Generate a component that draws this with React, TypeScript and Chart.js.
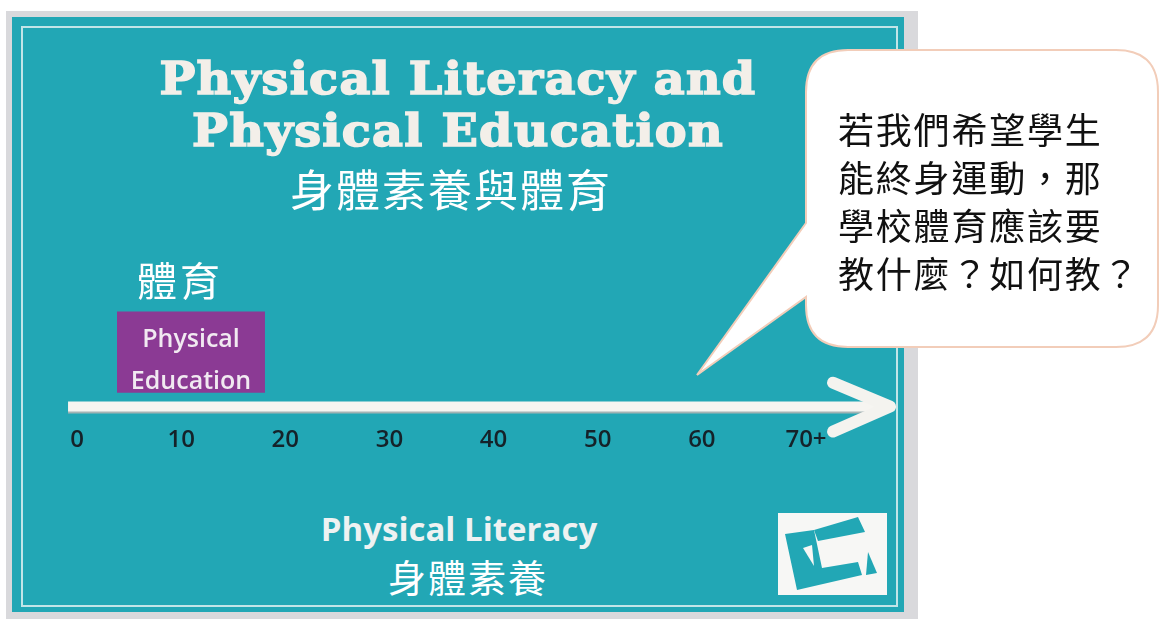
import { useEffect, useRef } from "react";
import { Chart, registerables } from "chart.js";

Chart.register(...registerables);

// ---- data ----
const ageTicks = [0, 10, 20, 30, 40, 50, 60, 70];
const ageTickLabels = ["0", "10", "20", "30", "40", "50", "60", "70+"];
const ageRange = [-6.242, 79.41];
const peAges = [3.84, 18.05];        // span of school physical education (ages)
const peBand = [5.9, 26.2];          // vertical band of the PE box (lane units)
const lifeAges = [-0.86, 77.1];      // lifelong arrow shaft (ages)
const lifeLane = 2.4;                // lane of the arrow
const headAges = [72.6, 78.07, 72.6];
const headLane = [8.4, 2.4, -3.85];

const titleLines = ["Physical Literacy and", "Physical Education"];
const subtitle = "身體素養與體育";
const peLabelZh = "體育";
const peLabelEn = ["Physical", "Education"];
const plLabelEn = "Physical Literacy";
const plLabelZh = "身體素養";
const bubbleLines = ["若我們希望學生", "能終身運動，那", "學校體育應該要", "教什麼？如何教？"];

const TEAL = "#22a7b5";

export default function App() {
  const ref = useRef<HTMLCanvasElement>(null);

  useEffect(() => {
    const chart = new Chart(ref.current!, {
      type: "line",
      data: {
        datasets: [
          {
            data: headAges.map((x, i) => ({ x, y: headLane[i] })),
            borderColor: "#f4f3ef",
            borderWidth: 12,
            borderCapStyle: "round",
            borderJoinStyle: "round",
            pointRadius: 0,
            fill: false,
            clip: false,
            tension: 0,
          } as any,
          {
            data: lifeAges.map((x) => ({ x, y: lifeLane })),
            borderColor: "#f6f5f1",
            borderWidth: 10,
            borderCapStyle: "butt",
            pointRadius: 0,
            fill: false,
            clip: false,
          } as any,
          {
            data: lifeAges.map((x) => ({ x, y: lifeLane - 0.5 })),
            borderColor: "#a3b3b4",
            borderWidth: 10,
            borderCapStyle: "butt",
            pointRadius: 0,
            fill: false,
            clip: false,
          } as any,
          {
            data: peAges.map((x) => ({ x, y: peBand[1] })),
            borderWidth: 0,
            borderColor: "rgba(0,0,0,0)",
            backgroundColor: "#8b3a94",
            pointRadius: 0,
            fill: { value: peBand[0] },
            clip: false,
          } as any,
        ],
      },
      options: {
        responsive: false,
        animation: false,
        events: [],
        layout: { padding: 0 },
        plugins: { legend: { display: false }, tooltip: { enabled: false } },
        scales: {
          x: {
            type: "linear",
            min: ageRange[0],
            max: ageRange[1],
            grid: { display: false, drawTicks: false },
            border: { display: false },
            afterBuildTicks: (s: any) => {
              s.ticks = ageTicks.map((v) => ({ value: v }));
            },
            ticks: {
              autoSkip: false,
              maxRotation: 0,
              padding: 10,
              color: "#152229",
              font: { family: "'Open Sans'", size: 24, weight: "600" },
              callback: (v: any) => ageTickLabels[ageTicks.indexOf(Number(v))] ?? "",
            },
          },
          y: { type: "linear", min: 0, max: 100, display: false },
        },
      },
    });
    return () => chart.destroy();
  }, []);

  const abs = (o: any) => ({ position: "absolute" as const, margin: 0, ...o });
  const W = "#f7f7f5";

  return (
    <div style={{ position: "fixed", left: 0, top: 0, width: 1160, height: 619, background: "#fff", overflow: "hidden" }}>
      {/* frame */}
      <div style={abs({ left: 6, top: 11, width: 912, height: 612, background: "#d9d9dc" })} />
      <div style={abs({ left: 12, top: 17, width: 892, height: 595, background: TEAL })} />
      <div style={abs({ left: 21, top: 26, width: 873, height: 577, border: "2px solid rgba(235,245,245,0.8)" })} />

      {/* logo */}
      <svg width={1160} height={619} style={abs({ left: 0, top: 0 })}>
        <rect x={778} y={513} width={109} height={82} fill={W} />
        <polygon points="785,534 814,530 822,568 858,562 862,575 797,590" fill={TEAL} />
        <polygon points="814,530 858,517 865,532 818,541" fill={TEAL} />
        <polygon points="803,548 812,545 814,566" fill={W} />
        <polygon points="868,552 877,573 866,575" fill={TEAL} />
      </svg>

      <canvas ref={ref} width={892} height={448} style={abs({ left: 12, top: 17 })} />

      {/* texts */}
      <div
        style={abs({
          left: 58, top: 53, width: 800, textAlign: "center",
          fontFamily: "'DejaVu Serif'", fontWeight: 700, fontSize: 45, lineHeight: "52px",
          letterSpacing: 1.2, color: "#f3efe9", whiteSpace: "nowrap",
          WebkitTextStroke: "1.6px #f3efe9", transform: "scaleX(1.06)", transformOrigin: "400px 0",
        })}
      >
        {titleLines.map((t) => (<div key={t}>{t}</div>))}
      </div>
      <div
        style={abs({
          left: 151, top: 166, width: 600, textAlign: "center",
          fontFamily: "'Noto Sans CJK TC'", fontSize: 44, lineHeight: "44px", letterSpacing: 2, color: "#ffffff",
        })}
      >
        {subtitle}
      </div>
      <div
        style={abs({
          left: 137, top: 259, fontFamily: "'Noto Sans CJK TC'", fontSize: 40, lineHeight: "40px",
          letterSpacing: 3, color: "#ffffff", whiteSpace: "nowrap",
        })}
      >
        {peLabelZh}
      </div>
      <div
        style={abs({
          left: 91, top: 316, width: 200, textAlign: "center",
          fontFamily: "'Open Sans'", fontWeight: 600, fontSize: 25, lineHeight: "42px", color: "#f1e9f1",
        })}
      >
        {peLabelEn.map((t) => (<div key={t}>{t}</div>))}
      </div>
      <div
        style={abs({
          left: 259, top: 512, width: 400, textAlign: "center",
          fontFamily: "'Open Sans'", fontWeight: 700, fontSize: 33, lineHeight: "33px", color: "#eef2f2",
        })}
      >
        {plLabelEn}
      </div>
      <div
        style={abs({
          left: 318, top: 557, width: 300, textAlign: "center",
          fontFamily: "'Noto Sans CJK TC'", fontSize: 38, lineHeight: "38px", letterSpacing: 2, color: "#ffffff",
        })}
      >
        {plLabelZh}
      </div>

      {/* speech bubble */}
      <svg width={1160} height={619} style={abs({ left: 0, top: 0 })}>
        <path
          d="M 848,50 H 1116 Q 1158,50 1158,92 V 305 Q 1158,347 1116,347 H 848 Q 806,347 806,305 V 297 L 697,375 L 806,223 V 92 Q 806,50 848,50 Z"
          fill="#ffffff"
          stroke="#f2cdb9"
          strokeWidth={2}
        />
      </svg>
      <div
        style={abs({
          left: 838, top: 104, fontFamily: "'Noto Sans CJK TC'", fontSize: 36, lineHeight: "48px",
          letterSpacing: 1.8, color: "#111", whiteSpace: "nowrap",
        })}
      >
        {bubbleLines.map((t) => (<div key={t}>{t}</div>))}
      </div>
    </div>
  );
}
